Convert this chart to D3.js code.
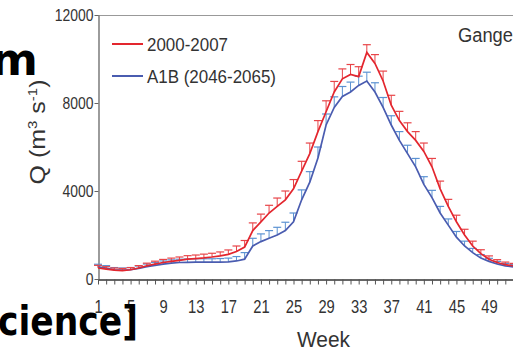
<!DOCTYPE html>
<html>
<head>
<meta charset="utf-8">
<script src="https://cdn.jsdelivr.net/npm/d3@7/dist/d3.min.js"></script>
<style>
  html, body { margin: 0; padding: 0; background: #fff; }
  svg { display: block; }
  text { font-family: "Liberation Sans", Arial, sans-serif; fill: #333; }
</style>
</head>
<body>
<svg id="chart" width="513" height="352"></svg>
<script>
// ---- data ----
const weeks = d3.range(1, 53);
const tickLabels = [1, 5, 9, 13, 17, 21, 25, 29, 33, 37, 41, 45, 49];
const yTicks = [0, 4000, 8000, 12000];
const seriesNames = ["2000-2007", "A1B (2046-2065)"];
const baseline = [500,450,400,380,420,500,600,680,750,800,850,900,930,960,1000,1050,1120,1250,1450,2200,2600,3000,3300,3600,4100,4900,5700,6700,7600,8500,9100,9300,9200,10300,9800,9000,7900,7200,6700,6300,5800,5100,4100,3300,2600,2000,1500,1150,900,750,650,600];
const baselineErr = [120,110,100,100,100,110,120,130,140,150,150,160,160,170,170,180,200,250,300,350,350,350,380,400,420,450,480,500,500,480,450,450,450,350,400,450,450,420,400,400,380,380,350,320,300,260,220,180,150,130,120,110];
const a1b = [550,500,420,400,420,480,560,620,680,720,750,760,770,770,770,770,780,820,900,1500,1700,1850,2000,2200,2600,3600,4400,5500,7000,7800,8300,8500,8800,9000,8500,7800,7000,6300,5700,5100,4300,3700,3000,2450,1900,1500,1200,950,800,680,600,550];
const a1bErr = [120,110,100,100,100,110,120,130,140,150,150,150,150,150,150,160,170,200,300,350,350,350,350,380,400,450,480,500,500,480,450,450,420,400,420,450,420,400,380,380,350,330,300,280,260,220,190,160,140,120,110,100];

const svg = d3.select("#chart");
const x = d3.scaleLinear().domain([1, 53]).range([98, 98 + 52 * 8.146]);
const y = d3.scaleLinear().domain([0, 12000]).range([279, 15]);
const SX = 0.82;

// top frame line
svg.append("line").attr("x1", 98).attr("x2", 513).attr("y1", 15.5).attr("y2", 15.5)
  .attr("stroke", "#999").attr("stroke-width", 1.2);

// y axis
const yAxis = svg.append("g").attr("transform", "translate(98.5,0)")
  .call(d3.axisLeft(y).tickValues(yTicks).tickSize(4).tickSizeOuter(0).tickFormat(d3.format("d")));
yAxis.select(".domain").attr("stroke", "#666").attr("stroke-width", 1.3);
yAxis.selectAll(".tick line").attr("stroke", "#666");
yAxis.selectAll(".tick text").attr("x", -5 / SX).attr("transform", `scale(${SX},1)`)
  .style("font-size", "17px").attr("fill", "#333");

// x axis
const xAxis = svg.append("g").attr("transform", "translate(0,279.5)")
  .call(d3.axisBottom(x).tickValues(d3.range(1, 54)).tickSize(5).tickSizeOuter(0)
    .tickFormat(d => tickLabels.includes(d) ? d : ""));
xAxis.select(".domain").attr("stroke", "#333").attr("stroke-width", 1.3);
xAxis.selectAll(".tick line").attr("stroke", "#555");
xAxis.selectAll(".tick text").attr("y", 34).attr("dy", null).attr("transform", `scale(${SX},1)`)
  .style("font-size", "18px").attr("fill", "#333");

// series
const series = [
  { vals: baseline, err: baselineErr, line: "#e3262e", ebar: "#e84448" },
  { vals: a1b, err: a1bErr, line: "#4a5cb0", ebar: "#5b92d2" }
];
const lineGen = d3.line().x((d, i) => x(weeks[i])).y(d => y(d));
series.slice().reverse().forEach(s => {
  const g = svg.append("g");
  s.vals.forEach((v, i) => {
    const xx = x(weeks[i]);
    const top = y(v + s.err[i]);
    g.append("line").attr("x1", xx).attr("x2", xx).attr("y1", y(v)).attr("y2", top)
      .attr("stroke", s.ebar).attr("stroke-width", 1);
    g.append("line").attr("x1", xx - 4).attr("x2", xx + 4).attr("y1", top).attr("y2", top)
      .attr("stroke", s.ebar).attr("stroke-width", 1.2);
  });
  g.append("path").datum(s.vals).attr("d", lineGen).attr("fill", "none")
    .attr("stroke", s.line).attr("stroke-width", 1.7);
});

// legend
const legendY = [44, 76];
series.forEach((s, i) => {
  svg.append("line").attr("x1", 112).attr("x2", 143).attr("y1", legendY[i]).attr("y2", legendY[i])
    .attr("stroke", s.line).attr("stroke-width", 2);
  svg.append("text").attr("x", 147).attr("y", legendY[i] + 6.5)
    .attr("textLength", i === 0 ? 81 : 129).attr("lengthAdjust", "spacingAndGlyphs")
    .style("font-size", "18px").text(seriesNames[i]);
});

// panel label
svg.append("text").attr("x", 458).attr("y", 42).attr("textLength", 55).attr("lengthAdjust", "spacingAndGlyphs")
  .style("font-size", "20px").text("Gange");

// axis titles
svg.append("text").attr("x", 297).attr("y", 347).attr("textLength", 53).attr("lengthAdjust", "spacingAndGlyphs")
  .style("font-size", "22px").text("Week");

const yt = svg.append("text").attr("transform", "translate(45,132) rotate(-90) scale(1,0.85)")
  .attr("text-anchor", "middle").style("font-size", "25px");
yt.append("tspan").text("Q (m");
yt.append("tspan").attr("dy", -9).style("font-size", "15px").text("3");
yt.append("tspan").attr("dy", 9).text(" s");
yt.append("tspan").attr("dy", -9).style("font-size", "15px").text("-1");
yt.append("tspan").attr("dy", 9).text(")");

// overlay slide text
svg.append("text").attr("x", 38).attr("y", 75).attr("text-anchor", "end")
  .style("font-family", "'DejaVu Sans', sans-serif").style("font-weight", "bold").style("font-size", "45px")
  .style("fill", "#000").text("m");
svg.append("text").attr("x", -2).attr("y", 335).attr("textLength", 140).attr("lengthAdjust", "spacingAndGlyphs")
  .style("font-family", "'DejaVu Sans', sans-serif").style("font-weight", "bold").style("font-size", "40px")
  .style("fill", "#000").text("cience]");
</script>
</body>
</html>
